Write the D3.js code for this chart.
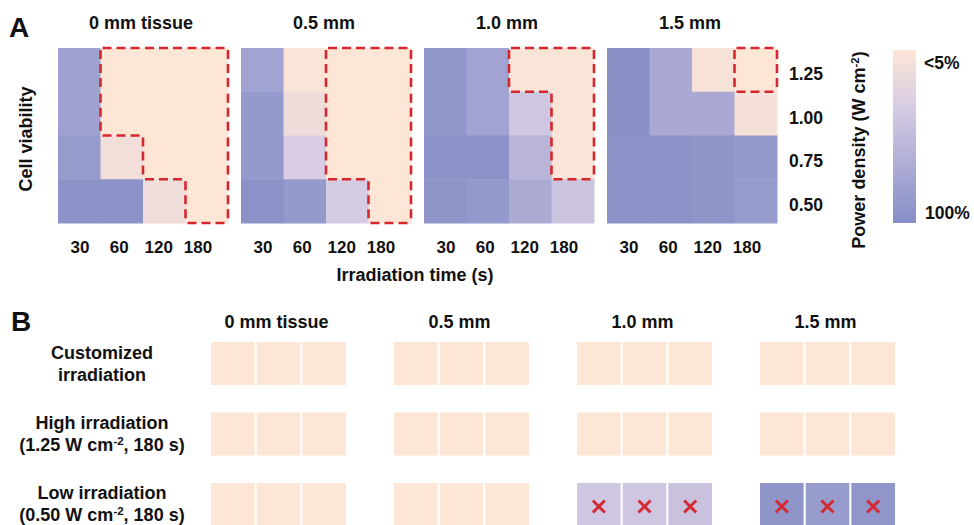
<!DOCTYPE html>
<html>
<head>
<meta charset="utf-8">
<script src="https://cdn.jsdelivr.net/npm/d3@7"></script>
<style>
  body { margin: 0; background: #fff; }
  text { font-family: "Liberation Sans", Arial, sans-serif; font-weight: bold; fill: #111; }
</style>
</head>
<body>
<div id="chart"></div>
<script>
// ---- data ----
var tissues = ["0 mm tissue", "0.5 mm", "1.0 mm", "1.5 mm"];
var times = ["30", "60", "120", "180"];
var powers = ["1.25", "1.00", "0.75", "0.50"];   // top to bottom

// cell viability (%) per tissue, rows = powers, cols = times
var viab0  = [[80, 5, 5, 5], [80, 5, 5, 5], [87, 13, 5, 5], [95, 95, 16, 5]];
var viab05 = [[78, 8, 5, 5], [88, 17, 5, 5], [88, 35, 5, 5], [96, 88, 37, 5]];
var viab10 = [[91, 78, 8, 8], [91, 78, 42, 8], [96, 96, 60, 8], [93, 88, 70, 45]];
var viab15 = [[97, 72, 10, 5], [97, 72, 72, 11], [96, 96, 93, 88], [96, 96, 93, 86]];

// cells inside the red dashed outline
var mark0  = [[0, 1, 1, 1], [0, 1, 1, 1], [0, 0, 1, 1], [0, 0, 0, 1]];
var mark05 = [[0, 0, 1, 1], [0, 0, 1, 1], [0, 0, 1, 1], [0, 0, 0, 1]];
var mark10 = [[0, 0, 1, 1], [0, 0, 0, 1], [0, 0, 0, 1], [0, 0, 0, 0]];
var mark15 = [[0, 0, 0, 1], [0, 0, 0, 0], [0, 0, 0, 0], [0, 0, 0, 0]];

// panel B: three replicates per tissue for each regimen
var conditions = ["custom", "high", "low"];
var replicates = ["r1", "r2", "r3"];
var customB = [[5, 5, 5], [5, 5, 5], [5, 5, 5], [5, 5, 5]];
var highB   = [[5, 5, 5], [5, 5, 5], [5, 5, 5], [5, 5, 5]];
var lowB    = [[5, 5, 5], [5, 5, 5], [42, 42, 47], [93, 86, 92]];

var viabA = [viab0, viab05, viab10, viab15];
var markA = [mark0, mark05, mark10, mark15];
var viabB = [customB, highB, lowB];

// ---- setup ----
var W = 974, H = 525;
var svg = d3.select("#chart").append("svg")
  .attr("width", W).attr("height", H);

var color = d3.scaleLinear()
  .domain([5, 35, 100])
  .range(["#fde6d5", "#d8cde4", "#868ec6"]);

// ---------- panel A ----------
var panelX = d3.scaleBand().domain(tissues).range([58, 777]).paddingInner(13 / 183);
var cellX = d3.scaleBand().domain(times).range([0, panelX.bandwidth()]);
var cellY = d3.scaleBand().domain(powers).range([48, 223]);
var tickX = d3.scalePoint().domain(times).range([22, 140]);

svg.append("text").attr("x", 9).attr("y", 37)
  .style("font-size", "28px").text("A");

tissues.forEach(function(t, k) {
  var g = svg.append("g").attr("transform", "translate(" + panelX(t) + ",0)");
  var cells = [];
  powers.forEach(function(p, i) {
    times.forEach(function(s, j) {
      cells.push({p: p, s: s, i: i, j: j, v: viabA[k][i][j], m: markA[k][i][j]});
    });
  });

  g.selectAll("rect.cell").data(cells).enter().append("rect")
    .attr("class", "cell")
    .attr("x", function(d) { return cellX(d.s); })
    .attr("y", function(d) { return cellY(d.p); })
    .attr("width", cellX.bandwidth() + 0.5)
    .attr("height", cellY.bandwidth() + 0.5)
    .attr("fill", function(d) { return color(d.v); });

  // dashed outline: every edge of a marked cell whose neighbour is unmarked
  var m = markA[k], segs = [];
  var bw = cellX.bandwidth(), bh = cellY.bandwidth();
  cells.filter(function(d) { return d.m; }).forEach(function(d) {
    var x0 = cellX(d.s), y0 = cellY(d.p), x1 = x0 + bw, y1 = y0 + bh;
    if (d.i === 0 || !m[d.i - 1][d.j]) segs.push([x0, y0, x1, y0]);
    if (d.i === 3 || !m[d.i + 1][d.j]) segs.push([x0, y1, x1, y1]);
    if (d.j === 0 || !m[d.i][d.j - 1]) segs.push([x0, y0, x0, y1]);
    if (d.j === 3 || !m[d.i][d.j + 1]) segs.push([x1, y0, x1, y1]);
  });
  g.selectAll("line.dash").data(segs).enter().append("line")
    .attr("x1", function(d) { return d[0]; })
    .attr("y1", function(d) { return d[1]; })
    .attr("x2", function(d) { return d[2]; })
    .attr("y2", function(d) { return d[3]; })
    .attr("stroke", "#d6262e")
    .attr("stroke-width", 2.6)
    .attr("stroke-dasharray", "9,5")
    .attr("stroke-dashoffset", -2);

  g.append("text")
    .attr("x", panelX.bandwidth() / 2 - 2).attr("y", 29)
    .attr("text-anchor", "middle").style("font-size", "18px")
    .text(t);

  g.selectAll("text.tick").data(times).enter().append("text")
    .attr("x", function(d) { return tickX(d); })
    .attr("y", 253)
    .attr("text-anchor", "middle").style("font-size", "17px")
    .text(function(d) { return d; });
});

svg.append("text")
  .attr("transform", "translate(32,139) rotate(-90)")
  .attr("text-anchor", "middle").style("font-size", "18px")
  .text("Cell viability");

svg.append("text")
  .attr("x", 415).attr("y", 281)
  .attr("text-anchor", "middle").style("font-size", "18px")
  .text("Irradiation time (s)");

// power density labels
svg.selectAll("text.power").data(powers).enter().append("text")
  .attr("x", 789)
  .attr("y", function(d) { return cellY(d) + cellY.bandwidth() / 2 + 10; })
  .style("font-size", "17.5px")
  .text(function(d) { return d; });

var pd = svg.append("text")
  .attr("transform", "translate(865,150) rotate(-90)")
  .attr("text-anchor", "middle").style("font-size", "18px");
pd.append("tspan").text("Power density (W cm");
pd.append("tspan").attr("baseline-shift", "super").style("font-size", "11.5px").text("-2");
pd.append("tspan").text(")");

// colour bar
var grad = svg.append("defs").append("linearGradient")
  .attr("id", "cbar").attr("x1", 0).attr("y1", 0).attr("x2", 0).attr("y2", 1);
var stopVals = d3.range(5, 100.1, 5);
grad.selectAll("stop").data(stopVals).enter().append("stop")
  .attr("offset", function(d) { return (d - 5) / 95; })
  .attr("stop-color", function(d) { return color(d); });
var cbY = d3.scaleLinear().domain([5, 100]).range([50, 223]);
svg.append("rect")
  .attr("x", 893).attr("y", cbY(5))
  .attr("width", 23).attr("height", cbY(100) - cbY(5))
  .attr("fill", "url(#cbar)");
svg.append("text").attr("x", 924).attr("y", 69).style("font-size", "17.5px").text("<5%");
svg.append("text").attr("x", 925).attr("y", 219).style("font-size", "17.5px").text("100%");

// ---------- panel B ----------
svg.append("text").attr("x", 11).attr("y", 331)
  .style("font-size", "28px").text("B");

var groupX = d3.scaleBand().domain(tissues).range([211, 895]).paddingInner(48 / 183);
var repX = d3.scaleBand().domain(replicates).range([0, groupX.bandwidth()]).paddingInner(0.045);
var rowY = d3.scaleBand().domain(conditions).range([342, 526]).paddingInner(0.39);

svg.selectAll("text.colB").data(tissues).enter().append("text")
  .attr("x", function(d) { return groupX(d) + groupX.bandwidth() / 2 - 2; })
  .attr("y", 328)
  .attr("text-anchor", "middle").style("font-size", "18px")
  .text(function(d) { return d; });

var boxes = [];
conditions.forEach(function(c, ci) {
  tissues.forEach(function(t, ti) {
    replicates.forEach(function(r, ri) {
      boxes.push({c: c, t: t, r: r, v: viabB[ci][ti][ri]});
    });
  });
});

svg.selectAll("rect.box").data(boxes).enter().append("rect")
  .attr("x", function(d) { return groupX(d.t) + repX(d.r); })
  .attr("y", function(d) { return rowY(d.c); })
  .attr("width", repX.bandwidth())
  .attr("height", rowY.bandwidth())
  .attr("fill", function(d) { return color(d.v); });

// red crosses where the regimen failed
var fails = boxes.filter(function(d) { return d.v > 5; });
var cross = svg.selectAll("g.cross").data(fails).enter().append("g")
  .attr("transform", function(d) {
    return "translate(" + (groupX(d.t) + repX(d.r) + repX.bandwidth() / 2) + "," +
      (rowY(d.c) + rowY.bandwidth() / 2 + 2) + ")";
  });
cross.append("line").attr("x1", -6).attr("y1", -6).attr("x2", 6).attr("y2", 6);
cross.append("line").attr("x1", -6).attr("y1", 6).attr("x2", 6).attr("y2", -6);
cross.selectAll("line").attr("stroke", "#d42a33").attr("stroke-width", 3);

// row labels
var rowLabels = [
  ["Customized", "irradiation"],
  ["High irradiation", "(1.25 W cm", ", 180 s)"],
  ["Low irradiation", "(0.50 W cm", ", 180 s)"]
];
conditions.forEach(function(c, ci) {
  var cy = rowY(c) + rowY.bandwidth() / 2;
  var lab = rowLabels[ci];
  svg.append("text").attr("x", 102).attr("y", cy - 5)
    .attr("text-anchor", "middle").style("font-size", "18px").text(lab[0]);
  var t2 = svg.append("text").attr("x", 102).attr("y", cy + 17)
    .attr("text-anchor", "middle").style("font-size", "18px");
  t2.append("tspan").text(lab[1]);
  if (lab.length > 2) {
    t2.append("tspan").attr("baseline-shift", "super").style("font-size", "11.5px").text("-2");
    t2.append("tspan").text(lab[2]);
  }
});
</script>
</body>
</html>
